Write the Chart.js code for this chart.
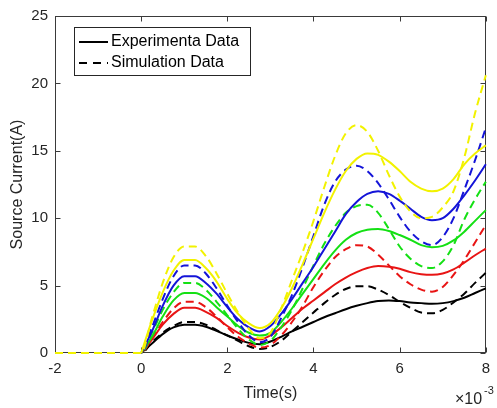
<!DOCTYPE html>
<html>
<head>
<meta charset="utf-8">
<script src="https://cdn.jsdelivr.net/npm/chart.js@4"></script>
<style>
  body { margin: 0; background: #fff; }
  #wrap { width: 497px; height: 408px; }
</style>
</head>
<body>
<div id="wrap"><canvas id="myChart"></canvas></div>
<script>
// time in ms (axis shows x10^-3 s)
const TIME = [-2, 0, 0.25, 0.5, 0.75, 1, 1.25, 1.5, 1.75, 2, 2.25, 2.5, 2.75, 3, 3.25, 3.5, 3.75, 4, 4.25, 4.5, 4.75, 5, 5.25, 5.5, 5.75, 6, 6.25, 6.5, 6.75, 7, 7.25, 7.5, 7.75, 8];

// simulation runs from -2 ms, measurements from 0
const SIM_YELLOW = [0, 0, 2.6, 5.2, 7.1, 7.9, 7.9, 7.2, 5.9, 4.4, 3.0, 1.8, 1.1, 1.5, 3.3, 5.4, 7.5, 9.8, 12.3, 14.6, 16.3, 16.9, 16.4, 15.0, 13.2, 11.6, 10.5, 10.0, 10.1, 10.8, 12.0, 14.5, 17.8, 20.6];
const EXP_YELLOW = [null, 0, 2.4, 4.5, 6.1, 6.9, 6.9, 6.3, 5.3, 4.0, 2.9, 2.2, 1.85, 2.2, 3.3, 4.8, 6.6, 8.5, 10.4, 12.1, 13.5, 14.4, 14.8, 14.7, 14.2, 13.5, 12.7, 12.2, 12.0, 12.2, 12.9, 14.0, 14.8, 15.4];
const SIM_BLUE = [0, 0, 1.9, 4.0, 5.7, 6.5, 6.5, 5.9, 4.8, 3.5, 2.3, 1.3, 0.8, 1.2, 2.6, 4.3, 6.4, 8.7, 11.0, 12.7, 13.6, 13.9, 13.5, 12.6, 11.4, 10.1, 9.0, 8.3, 8.0, 8.6, 10.0, 12.1, 14.3, 16.7];
const EXP_BLUE = [null, 0, 1.6, 3.5, 5.0, 5.7, 5.7, 5.2, 4.4, 3.4, 2.5, 1.9, 1.6, 2.0, 2.9, 4.0, 5.2, 6.4, 7.7, 9.0, 10.3, 11.2, 11.8, 12.0, 11.8, 11.3, 10.7, 10.1, 9.85, 10.0, 10.7, 11.7, 12.8, 14.0];
const SIM_GREEN = [0, 0, 1.5, 3.2, 4.5, 5.2, 5.2, 4.7, 3.8, 2.8, 1.8, 1.0, 0.6, 0.9, 1.9, 3.2, 4.8, 6.5, 8.1, 9.4, 10.4, 10.9, 11.0, 10.4, 9.2, 7.9, 7.0, 6.45, 6.3, 6.8, 8.0, 9.9, 11.4, 12.7];
const EXP_GREEN = [null, 0, 1.2, 2.7, 3.9, 4.45, 4.45, 4.1, 3.4, 2.7, 2.0, 1.5, 1.3, 1.5, 2.3, 3.3, 4.4, 5.5, 6.6, 7.6, 8.4, 8.9, 9.15, 9.2, 9.05, 8.75, 8.4, 8.0, 7.85, 7.95, 8.35, 9.0, 9.8, 10.6];
const SIM_RED = [0, 0, 1.1, 2.3, 3.3, 3.8, 3.8, 3.4, 2.7, 1.9, 1.2, 0.7, 0.4, 0.6, 1.3, 2.3, 3.5, 4.9, 6.1, 7.1, 7.7, 8.0, 7.9, 7.3, 6.5, 5.7, 5.1, 4.7, 4.55, 4.9, 5.8, 6.9, 8.2, 9.5];
const EXP_RED = [null, 0, 1.0, 2.1, 2.9, 3.35, 3.35, 3.05, 2.6, 2.0, 1.5, 1.15, 1.0, 1.3, 1.9, 2.6, 3.3, 3.9, 4.5, 5.1, 5.6, 6.0, 6.3, 6.45, 6.4, 6.25, 6.0, 5.85, 5.8, 5.9, 6.2, 6.7, 7.25, 7.75];
const SIM_BLACK = [0, 0, 0.8, 1.5, 2.0, 2.3, 2.3, 2.1, 1.7, 1.3, 0.9, 0.5, 0.3, 0.45, 0.9, 1.6, 2.3, 3.0, 3.7, 4.3, 4.75, 4.95, 4.95, 4.7, 4.3, 3.8, 3.35, 3.0, 2.95, 3.2, 3.75, 4.4, 5.2, 5.95];
const EXP_BLACK = [null, 0, 0.7, 1.4, 1.9, 2.1, 2.1, 1.95, 1.65, 1.3, 1.0, 0.75, 0.65, 0.85, 1.2, 1.6, 1.95, 2.3, 2.65, 2.95, 3.25, 3.5, 3.7, 3.85, 3.9, 3.85, 3.75, 3.7, 3.65, 3.7, 3.85, 4.1, 4.45, 4.8];

const LEGEND_LABELS = ['Experimenta Data', 'Simulation Data'];

const FONT = "'Liberation Sans', Arial, sans-serif";
const TEXT = '#262626';
const DASH = [8, 5];

const YELLOW = '#f2f200';
const BLUE = '#1414d8';
const GREEN = '#14e014';
const RED = '#e81414';
const BLACK = '#000000';

function line(data, color, dashed) {
    return {
        data: data,
        borderColor: color,
        borderWidth: 2,
        borderDash: dashed ? DASH : [],
        pointRadius: 0,
        fill: false,
        cubicInterpolationMode: 'monotone',
        clip: 3
    };
}

// first dataset ends up on top
const datasets = [
    line(SIM_YELLOW, YELLOW, true),
    line(EXP_YELLOW, YELLOW, false),
    line(SIM_BLUE, BLUE, true),
    line(EXP_BLUE, BLUE, false),
    line(SIM_GREEN, GREEN, true),
    line(EXP_GREEN, GREEN, false),
    line(SIM_RED, RED, true),
    line(EXP_RED, RED, false),
    line(SIM_BLACK, BLACK, true),
    line(EXP_BLACK, BLACK, false)
];

// box + inward ticks (under the lines), legend and exponent on top
const matlabFrame = {
    id: 'matlabFrame',
    beforeDatasetsDraw(chart) {
        const ctx = chart.ctx;
        const a = chart.chartArea;
        const xs = chart.scales.x;
        const ys = chart.scales.y;
        ctx.save();
        ctx.strokeStyle = '#3a3a3a';
        ctx.lineWidth = 1;
        const L = Math.round(a.left) + 0.5, R = Math.round(a.right) - 0.5;
        const T = Math.round(a.top) + 0.5, B = Math.round(a.bottom) - 0.5;
        ctx.strokeRect(L, T, R - L, B - T);
        ctx.beginPath();
        xs.ticks.forEach(t => {
            const px = Math.round(xs.getPixelForValue(t.value)) + 0.5;
            ctx.moveTo(px, B); ctx.lineTo(px, B - 5);
            ctx.moveTo(px, T); ctx.lineTo(px, T + 5);
        });
        ys.ticks.forEach(t => {
            const py = Math.round(ys.getPixelForValue(t.value)) + 0.5;
            ctx.moveTo(L, py); ctx.lineTo(L + 5, py);
            ctx.moveTo(R, py); ctx.lineTo(R - 5, py);
        });
        ctx.stroke();
        ctx.restore();
    },
    afterDraw(chart) {
        const ctx = chart.ctx;
        ctx.save();
        // legend
        ctx.fillStyle = '#fff';
        ctx.fillRect(74.5, 27.5, 176, 48);
        ctx.strokeStyle = '#262626';
        ctx.lineWidth = 1;
        ctx.strokeRect(74.5, 27.5, 176, 48);
        ctx.strokeStyle = BLACK;
        ctx.lineWidth = 2;
        ctx.beginPath();
        ctx.moveTo(79, 42); ctx.lineTo(108, 42);
        ctx.stroke();
        ctx.setLineDash([8, 6]);
        ctx.beginPath();
        ctx.moveTo(79, 63); ctx.lineTo(108, 63);
        ctx.stroke();
        ctx.setLineDash([]);
        ctx.fillStyle = '#000';
        ctx.font = '16px ' + FONT;
        ctx.textBaseline = 'middle';
        ctx.textAlign = 'left';
        ctx.fillText(LEGEND_LABELS[0], 111, 42);
        ctx.fillText(LEGEND_LABELS[1], 111, 63);

        // x10^-3
        ctx.fillStyle = TEXT;
        ctx.textBaseline = 'alphabetic';
        ctx.font = '16px ' + FONT;
        ctx.fillText('\u00d710', 455, 404);
        ctx.font = '11px ' + FONT;
        ctx.fillText('-3', 484, 394);
        ctx.restore();
    }
};

const config = {
    type: 'line',
    data: { labels: TIME, datasets: datasets },
    options: {
        responsive: true,
        maintainAspectRatio: false,
        animation: false,
        layout: { padding: { top: 15, right: 4, left: 0, bottom: 0 } },
        plugins: {
            legend: { display: false },
            tooltip: { enabled: false }
        },
        scales: {
            x: {
                type: 'linear',
                min: -2,
                max: 8,
                ticks: { stepSize: 2, color: TEXT, font: { family: FONT, size: 15 }, padding: 7 },
                grid: { display: false, drawTicks: false },
                border: { display: false },
                title: { display: true, text: 'Time(s)', color: TEXT, font: { family: FONT, size: 16 }, padding: { top: 0, bottom: 5 } },
                afterFit(s) { s.height = 55; }
            },
            y: {
                min: 0,
                max: 25,
                ticks: { stepSize: 5, color: TEXT, font: { family: FONT, size: 15 }, padding: 7 },
                grid: { display: false, drawTicks: false },
                border: { display: false },
                title: { display: true, text: 'Source Current(A)', color: TEXT, font: { family: FONT, size: 16 }, padding: { top: 8 } },
                afterFit(s) { s.width = 55; }
            }
        }
    },
    plugins: [matlabFrame]
};

const myChart = new Chart(document.getElementById('myChart'), config);
</script>
</body>
</html>
